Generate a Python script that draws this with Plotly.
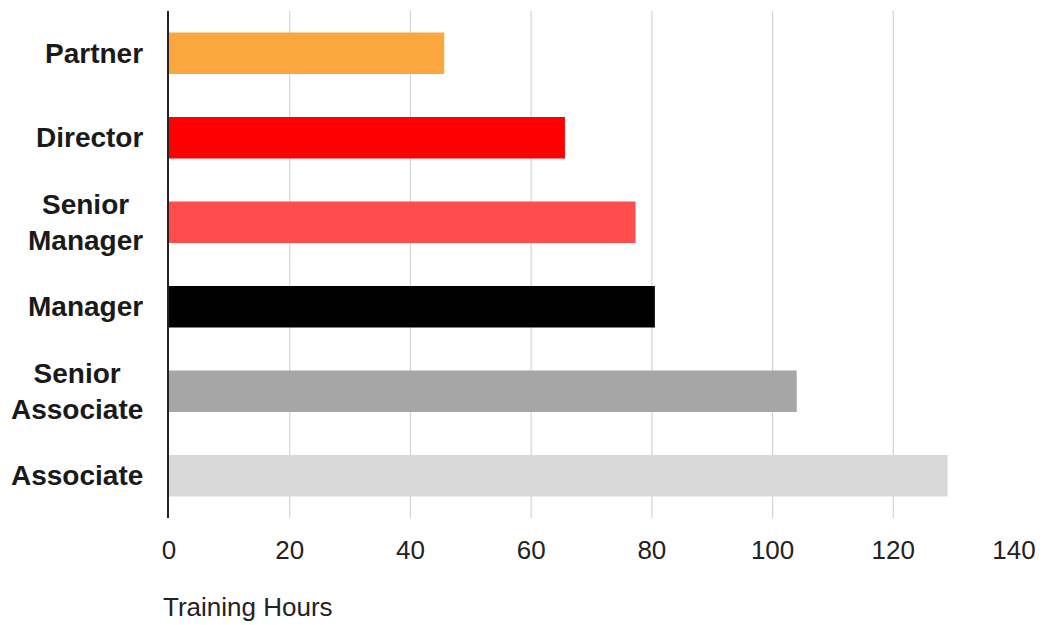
import plotly.graph_objects as go

categories = ["Associate", "Senior<br>Associate", "Manager", "Senior<br>Manager", "Director", "Partner"]
hours = [129, 104, 80.5, 77.3, 65.6, 45.6]
colors = ["#D9D9D9", "#A6A6A6", "#000000", "#FF4D4D", "#FF0000", "#FBA63F"]
tick_vals = [0, 20, 40, 60, 80, 100, 120, 140]
x_title = "Training Hours"

fig = go.Figure()
fig.add_trace(go.Bar(
    y=list(range(len(categories))), x=hours, orientation="h",
    marker=dict(color=colors, line=dict(width=0)),
    width=0.49, hoverinfo="x",
))

# gridlines (no line at the 140 edge)
for v in tick_vals[1:-1]:
    fig.add_shape(type="line", xref="x", yref="paper", x0=v, x1=v, y0=0, y1=1,
                  line=dict(color="#D4D4D4", width=1.2), layer="below")

# category labels (centered multi-line, right aligned block)
for i, c in enumerate(categories):
    fig.add_annotation(xref="paper", yref="y", x=-0.028, y=i, text=c,
                       xanchor="right", yanchor="middle", align="center",
                       showarrow=False,
                       font=dict(family="Liberation Sans, Arial", size=28,
                                 color="#1a1a1a", weight="bold"))

fig.add_annotation(xref="paper", yref="paper", x=-0.01, y=-0.176, text=x_title,
                   xanchor="left", yanchor="middle", showarrow=False,
                   font=dict(family="Liberation Sans, Arial", size=26, color="#222222"))

fig.update_layout(
    width=1047, height=625,
    margin=dict(l=169, r=26, t=11, b=107),
    paper_bgcolor="white", plot_bgcolor="white",
    showlegend=False,
    font=dict(family="Liberation Sans, Arial", color="#222222"),
    xaxis=dict(range=[0, 140], tickvals=tick_vals, showgrid=False, zeroline=False,
               showline=False, ticks="outside", ticklen=9, tickcolor="rgba(0,0,0,0)",
               tickfont=dict(size=26, color="#222222")),
    yaxis=dict(range=[-0.5, 5.5], showticklabels=False, showgrid=False, zeroline=False,
               showline=True, linecolor="#222222", linewidth=2, ticks=""),
)

fig.write_html("out.html")
